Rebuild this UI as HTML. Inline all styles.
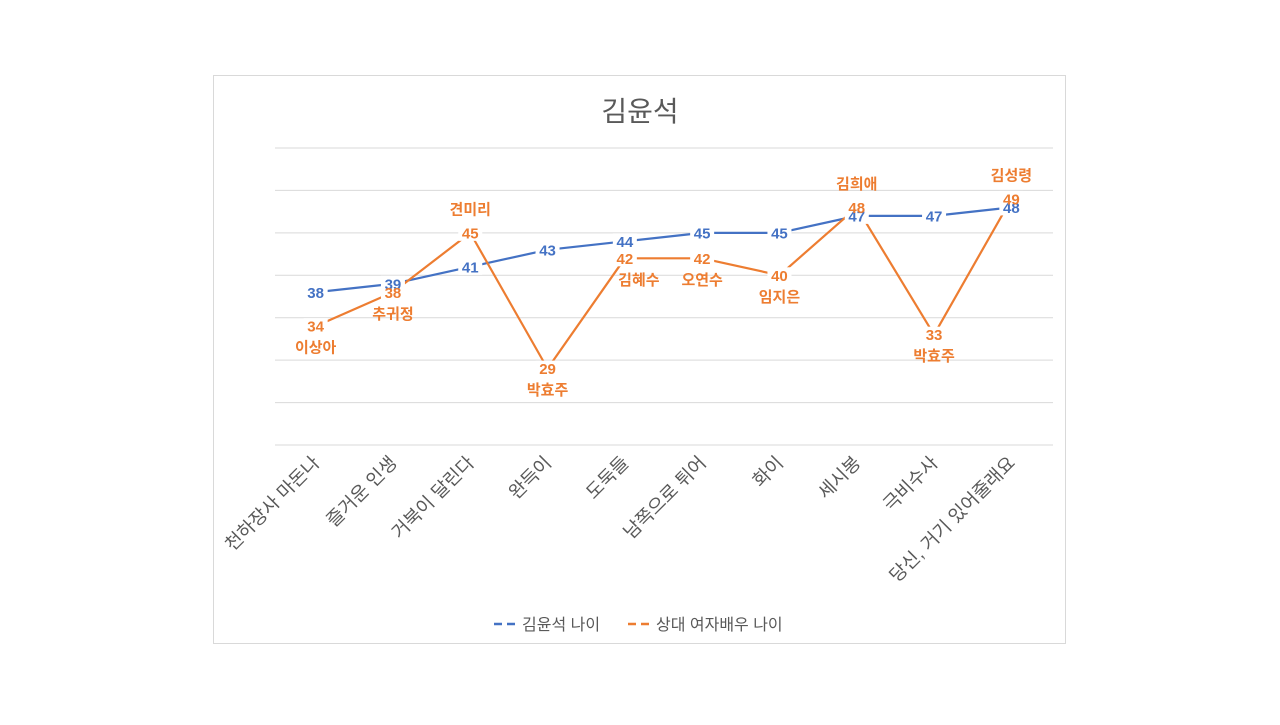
<!DOCTYPE html>
<html><head><meta charset="utf-8"><style>
body{margin:0;background:#fff;font-family:"Liberation Sans","Noto Sans CJK KR",sans-serif;}
svg text{font-family:"Liberation Sans","Noto Sans CJK KR",sans-serif;}
</style></head><body>
<svg id="c" width="1280" height="720" xmlns="http://www.w3.org/2000/svg">
<rect x="213.5" y="75.5" width="852" height="568" fill="#fff" stroke="#d9d9d9"/>
<text x="640" y="121" text-anchor="middle" font-size="28" fill="#595959">김윤석</text>
<g id="grid"></g><g id="xl"></g><g id="lines"></g><g id="bgs"></g><g id="labels"></g>
<g>
<g>
<line x1="494" y1="624" x2="518" y2="624" stroke="#4472c4" stroke-width="2.5" stroke-dasharray="8,5"/>
<text x="522" y="630" font-size="16" fill="#595959">김윤석 나이</text></g>
<g>
<line x1="628" y1="624" x2="652" y2="624" stroke="#ed7d31" stroke-width="2.5" stroke-dasharray="8,5"/>
<text x="656" y="630" font-size="16" fill="#595959">상대 여자배우 나이</text></g>
</g>
</svg>
<script>
const categories=["천하장사 마돈나","즐거운 인생","거북이 달린다","완득이","도둑들","남쪽으로 튀어","화이","세시봉","극비수사","당신, 거기 있어줄래요"];
const kimAges=[38,39,41,43,44,45,45,47,47,48];
const actressAges=[34,38,45,29,42,42,40,48,33,49];
const actressNames=["이상아","추귀정","견미리","박효주","김혜수","오연수","임지은","김희애","박효주","김성령"];
const namePos=["below","below","above","below","below","below","below","above","below","above"];
const yTicks=[20,25,30,35,40,45,50,55];
const NS="http://www.w3.org/2000/svg";
const x0=277,x1=1050,yMin=20,yMax=55,yB=445,yT=148;
const xs=i=>x0+(x1-x0)/categories.length*(i+0.5);
const ys=v=>yB-(v-yMin)/(yMax-yMin)*(yB-yT);
function mk(t,a,p){const e=document.createElementNS(NS,t);for(const k in a)e.setAttribute(k,a[k]);document.getElementById(p).appendChild(e);return e;}
yTicks.forEach(v=>{const l=mk('line',{x1:x0-2,x2:x1+3,y1:ys(v),y2:ys(v),stroke:'#d9d9d9','stroke-width':1},'grid');

});
categories.forEach((c,i)=>{const x=xs(i)+5,y=464;const t=mk('text',{x:x,y:y,'text-anchor':'end','font-size':18.5,fill:'#595959',transform:`rotate(-45 ${x} ${y})`},'xl');t.textContent=c;

});
function series(vals,color,name){const p=mk('polyline',{points:vals.map((v,i)=>xs(i)+','+ys(v)).join(' '),fill:'none',stroke:color,'stroke-width':2.2,'stroke-linejoin':'round'},'lines');

}
series(kimAges,'#4472c4','kim-age-line');
series(actressAges,'#ed7d31','actress-age-line');
function lab(x,y,txt,color,name,bg){
 if(bg){const w=txt.length*9+6;const r=mk('rect',{x:x-w/2,y:y-8,width:w,height:16,fill:'#fff'},'bgs');
 
 }
 const t=mk('text',{x:x,y:y+5.5,'text-anchor':'middle','font-size':15,'font-weight':'bold',fill:color},'labels');t.textContent=txt;
 
 }
kimAges.forEach((v,i)=>lab(xs(i),ys(v),String(v),'#4472c4','kim-value-label',true));
actressAges.forEach((v,i)=>{lab(xs(i),ys(v),String(v),'#ed7d31','actress-value-label',true);
 const dx=i===4?14:0;const dy=namePos[i]==='above'?-24:21;
 lab(xs(i)+dx,ys(v)+dy,actressNames[i],'#ed7d31','actress-name-label',false);});
</script>
</body></html>
